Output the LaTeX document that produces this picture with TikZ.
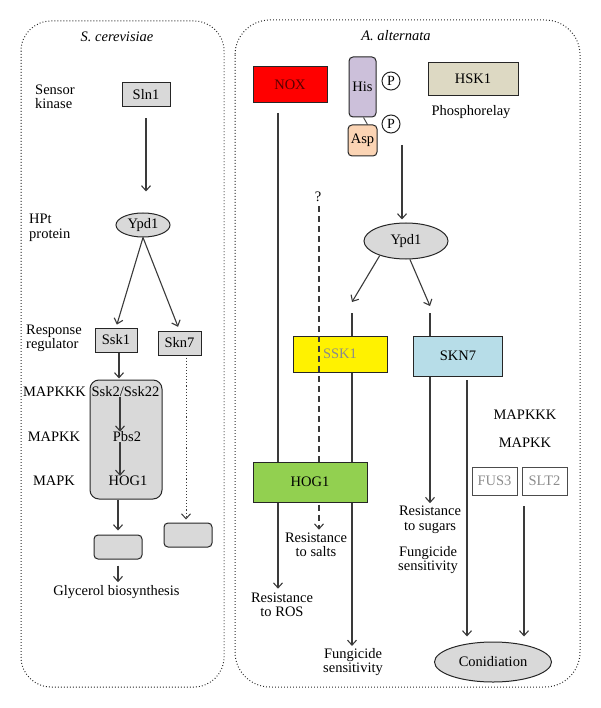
\documentclass[tikz,border=0pt]{standalone}
\usepackage{fontspec}
\setmainfont{Liberation Serif}
\usetikzlibrary{arrows.meta,shapes.geometric}
\definecolor{boxgray}{HTML}{D9D9D9}
\definecolor{hisc}{HTML}{CCC0DA}
\definecolor{aspc}{HTML}{FBD4B4}
\definecolor{hskc}{HTML}{DDD9C3}
\definecolor{skn7c}{HTML}{B7DDE8}
\definecolor{hogc}{HTML}{92D050}
\definecolor{noxtext}{HTML}{5A0000}
\definecolor{linec}{HTML}{3A3A3A}
\begin{document}
\begin{tikzpicture}[x=1pt,y=-1pt,
  font=\fontsize{14.5}{14.5}\selectfont,
  panel/.style={draw=black!85, line width=1pt, dash pattern=on 0.9pt off 2.1pt},
  gbox/.style={draw=black!85, fill=boxgray, line width=1pt, inner sep=0pt},
  cbox/.style={draw=black!85, line width=1pt, inner sep=0pt},
  ln/.style={draw=linec, line width=1.1pt},
  arr/.style={ln, -{Straight Barb[length=5pt,width=9pt]}},
  lbl/.style={align=center, inner sep=0pt},
  lft/.style={align=left, inner sep=0pt, anchor=west},
  sz/.style 2 args={minimum width=#1, minimum height=#2}]
\useasboundingbox (0,0) rectangle (600,708);

% panels
\draw[panel, rounded corners=30pt] (21,21) rectangle (224,687);
\draw[panel, rounded corners=35pt] (235,20) rectangle (580,687);

% ---------------- left panel ----------------
\node[lbl] (tl) at (117,37) {\itshape S. cerevisiae};
\node[lft] (lsk) at (35,97) {Sensor\\kinase};
\node[gbox, sz={48pt}{24pt}] (sln1) at (146,95) {Sln1};
\node[lft] (lhpt) at (29,228) {HPt\\protein};
\node[ellipse, gbox, sz={54pt}{24pt}] (ypdl) at (143,225) {Ypd1};
\node[lft] (lrr) at (26,338.5) {Response\\regulator};
\node[gbox, sz={42pt}{24pt}] (ssk1l) at (116,340) {Ssk1};
\node[gbox, sz={43pt}{24pt}] (skn7l) at (179.5,343) {Skn7};
\node[gbox, rounded corners=9pt, sz={72pt}{119pt}] (big) at (126,439.5) {};
\node[lbl] (mk3) at (54.5,392) {MAPKKK};
\node[lbl] (mk2) at (54,437) {MAPKK};
\node[lbl] (mk1) at (54,481) {MAPK};
\node[lbl] (ssk2) at (125.5,392) {Ssk2/Ssk22};
\node[lbl] (pbs2) at (127,437) {Pbs2};
\node[lbl] (hog1l) at (128,481) {HOG1};
\node[gbox, rounded corners=4pt, sz={48pt}{24pt}] (low1) at (118,547) {};
\node[gbox, rounded corners=4pt, sz={48pt}{24pt}] (low2) at (188,535) {};
\node[lbl] (gly) at (116.5,592) {Glycerol biosynthesis};
\coordinate (mc) at (120,0);
\coordinate (dc) at (186,0);

\draw[arr, shorten <=11pt, shorten >=21pt] (sln1.south) -- (sln1.south |- ypdl.north);
\draw[arr, shorten >=3pt] (ypdl.south) -- (ssk1l.north);
\draw[arr, shorten >=4pt] (ypdl.south) -- (skn7l.north);
\draw[arr, shorten >=1pt] ([xshift=3pt]ssk1l.south) -- ([xshift=3pt]ssk1l.south |- big.north);
\draw[arr] (ssk2.south -| mc) -- (pbs2.north -| mc);
\draw[arr] (pbs2.south -| mc) -- (hog1l.north -| mc);
\draw[arr, shorten >=4pt] (big.south -| low1) -- (low1.north);
\draw[arr, shorten <=6pt, shorten >=3pt] (low1.south) -- (gly.north -| low1);
\draw[ln, dotted, line width=1pt, -{Straight Barb[length=5pt,width=9pt]}, shorten <=2pt, shorten >=3pt] (skn7l.south -| dc) -- (low2.north -| dc);

% ---------------- right panel ----------------
\node[lbl] (tr) at (396,36) {\itshape A. alternata};
\node[cbox, fill=red, text=noxtext, sz={74pt}{36pt}] (nox) at (290,85) {NOX};
\node[cbox, fill=hisc, rounded corners=4pt, sz={27pt}{60pt}] (his) at (362.5,87) {His};
\node[cbox, fill=aspc, rounded corners=4pt, sz={29pt}{31pt}] (asp) at (362.5,140.5) {Asp};
\draw[ln, line width=0.9pt] ([xshift=1pt]his.south) -- ([xshift=5pt]asp.north);
\node[circle, cbox, fill=white, minimum size=18pt, font=\fontsize{14}{14}\selectfont] (p1) at (391,81) {P};
\node[circle, cbox, fill=white, minimum size=18pt, font=\fontsize{14}{14}\selectfont] (p2) at (391,124) {P};
\node[cbox, fill=hskc, sz={90pt}{33pt}] (hsk1) at (473,79) {HSK1};
\node[lbl] (phr) at (471,112) {Phosphorelay};
\node[ellipse, gbox, sz={84pt}{36pt}] (ypdr) at (406,241) {Ypd1};
\node[cbox, fill=yellow, text=black!45, sz={94pt}{36pt}] (ssk1r) at (340,354) {SSK1};
\node[cbox, fill=skn7c, sz={89pt}{40pt}] (skn7r) at (458,356) {SKN7};
\node[cbox, fill=hogc, sz={114pt}{40pt}] (hog1r) at (310,482) {HOG1};
\node[lbl] (qm) at (318,197) {?};
\node[lbl] (m3) at (525,415) {MAPKKK};
\node[lbl] (m2) at (525,443) {MAPKK};
\node[cbox, draw=black!70, line width=0.8pt, text=black!45, sz={45pt}{28pt}] (fus3) at (494.5,481) {FUS3};
\node[cbox, draw=black!70, line width=0.8pt, text=black!45, sz={45pt}{28pt}] (slt2) at (544.5,481) {SLT2};
\node[lbl] (ros) at (282,605) {Resistance\\to ROS};
\node[lbl] (salt) at (316,545) {Resistance\\to salts};
\node[lbl] (fs1) at (353,662) {Fungicide\\sensitivity};
\node[lbl] (sug) at (430,520) {Resistance\\to sugars};
\node[lbl] (fs2) at (428,560) {Fungicide\\sensitivity};
\node[ellipse, gbox, sz={117pt}{40pt}] (conid) at (493,662) {Conidiation};

\coordinate (ax) at (402,145);
\coordinate (a1) at (352,302);
\coordinate (a2) at (430,306);
\coordinate (nx) at (278,113);
\coordinate (c1) at (467,380);
\coordinate (s1) at (524,506);
\coordinate (dq) at (319,0);

\draw[arr, shorten >=3pt] (ax) -- (ax |- ypdr.north);
\draw[arr] (ypdr.209) -- (a1);
\draw[arr] (ypdr.282) -- (a2);
\draw[ln] (ssk1r.north -| a1) -- ++(0,-23);
\draw[ln] (skn7r.north -| a2) -- ++(0,-23);
\draw[ln] (nx) -- (nx |- hog1r.north);
\draw[ln, dash pattern=on 6pt off 4pt] (qm.south -| dq) ++(0,4) -- (hog1r.north -| dq);
\draw[ln] (ssk1r.south -| a1) -- (hog1r.north -| a1);
\draw[arr, shorten >=4pt] (hog1r.south -| nx) -- (ros.north -| nx);
\draw[ln, dash pattern=on 6pt off 4pt, -{Straight Barb[length=5pt,width=9pt]}, shorten <=2pt, shorten >=3pt] (hog1r.south -| dq) -- (salt.north -| dq);
\draw[arr, shorten >=2pt] (hog1r.south -| a1) -- (fs1.north -| a1);
\draw[arr, shorten >=3pt] (skn7r.south -| a2) -- (sug.north -| a2);
\draw[arr, shorten >=5pt] (c1) -- (c1 |- conid.north);
\draw[arr, shorten >=5pt] (s1) -- (s1 |- conid.north);
\end{tikzpicture}
\end{document}
